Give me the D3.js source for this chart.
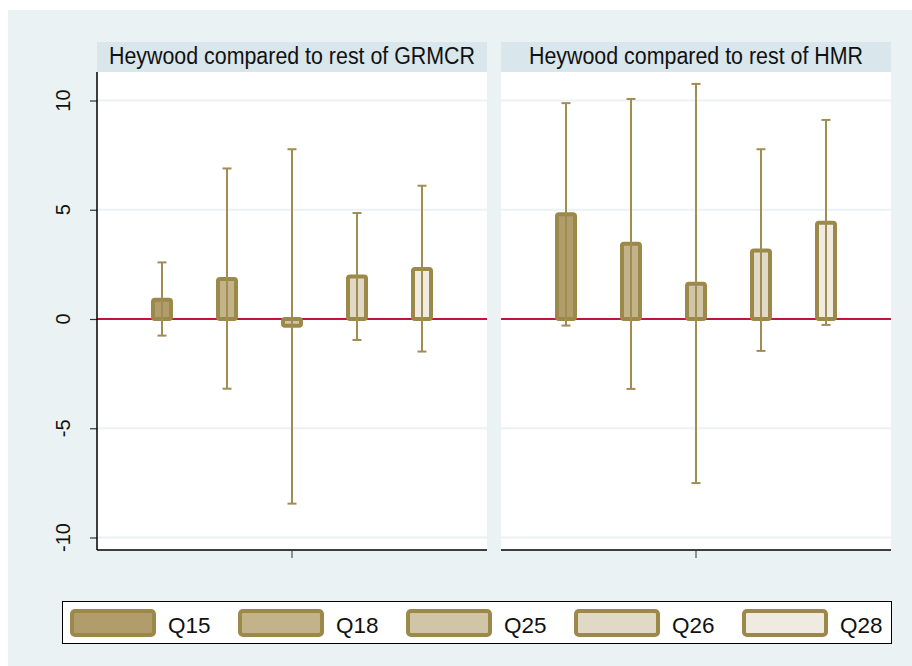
<!DOCTYPE html>
<html>
<head>
<meta charset="utf-8">
<script src="https://cdn.jsdelivr.net/npm/d3@7"></script>
<style>
  body { margin: 0; background: #fff; }
  svg text { font-family: "Liberation Sans", Arial, sans-serif; }
</style>
</head>
<body>
<div id="chart"></div>
<script>
// data
const series = ["Q15", "Q18", "Q25", "Q26", "Q28"];
const panelTitles = ["Heywood compared to rest of GRMCR", "Heywood compared to rest of HMR"];
const grmcrMean = [0.88, 1.83, -0.31, 1.95, 2.29];
const grmcrLow = [-0.76, -3.19, -8.45, -0.96, -1.49];
const grmcrHigh = [2.59, 6.89, 7.77, 4.85, 6.1];
const hmrMean = [4.79, 3.44, 1.61, 3.14, 4.4];
const hmrLow = [-0.3, -3.2, -7.51, -1.46, -0.27];
const hmrHigh = [9.88, 10.07, 10.76, 7.77, 9.11];
const yTicks = [-10, -5, 0, 5, 10];
const fills = ["#b09d6b", "#c3b38a", "#d0c5a7", "#e0d9c5", "#efebe1"];

const W = 912, H = 666;
const olive = "#9c8848";
const spike = "#a08d52";
const plotTop = 72, plotBottom = 550;
const panels = [
    { x0: 97, x1: 487, title: panelTitles[0], mean: grmcrMean, lo: grmcrLow, hi: grmcrHigh, yAxis: true },
    { x0: 501, x1: 891, title: panelTitles[1], mean: hmrMean, lo: hmrLow, hi: hmrHigh, yAxis: false }
];

const svg = d3.select("#chart")
  .append("svg")
    .attr("width", W)
    .attr("height", H);

svg.append("rect")
    .attr("x", 8).attr("y", 10)
    .attr("width", W - 8).attr("height", H - 10)
    .attr("fill", "#eaf2f3");

const yScale = d3.scaleLinear()
    .domain([-10, 10])
    .range([537.5, 100.5]);

panels.forEach((p, k) => {
    const g = svg.append("g");
    const xScale = d3.scalePoint()
        .domain(series)
        .range([p.x0, p.x1])
        .padding(1);

    // title strip
    g.append("rect")
        .attr("x", p.x0).attr("y", 42)
        .attr("width", p.x1 - p.x0).attr("height", 30)
        .attr("fill", "#d9e6eb");
    g.append("text")
        .attr("x", (p.x0 + p.x1) / 2)
        .attr("y", 64)
        .attr("text-anchor", "middle")
        .attr("textLength", k === 0 ? 366 : 334)
        .attr("lengthAdjust", "spacingAndGlyphs")
        .style("font-size", "23px")
        .attr("fill", "#111")
        .text(p.title);

    // plot area
    g.append("rect")
        .attr("x", p.x0).attr("y", plotTop)
        .attr("width", p.x1 - p.x0).attr("height", plotBottom - plotTop)
        .attr("fill", "#fff");

    // gridlines
    g.selectAll(".grid")
        .data(yTicks.filter(d => d !== 0))
        .join("line")
        .attr("x1", p.x0).attr("x2", p.x1)
        .attr("y1", d => yScale(d)).attr("y2", d => yScale(d))
        .attr("stroke", "#eaf2f3")
        .attr("stroke-width", 2);

    // zero line
    g.append("line")
        .attr("x1", p.x0).attr("x2", p.x1)
        .attr("y1", yScale(0)).attr("y2", yScale(0))
        .attr("stroke", "#c0143c")
        .attr("stroke-width", 1.8);

    // bars
    const bw = 18;
    g.selectAll(".bar")
        .data(series)
        .join("rect")
        .attr("x", d => xScale(d) - bw / 2)
        .attr("y", (d, i) => yScale(Math.max(0, p.mean[i])))
        .attr("width", bw)
        .attr("height", (d, i) => Math.abs(yScale(p.mean[i]) - yScale(0)))
        .attr("rx", 2)
        .attr("fill", (d, i) => fills[i])
        .attr("stroke", olive)
        .attr("stroke-width", 4);

    // error bars (capped spikes)
    const cap = 4.5;
    series.forEach((s, i) => {
        const cx = xScale(s);
        g.append("line")
            .attr("x1", cx).attr("x2", cx)
            .attr("y1", yScale(p.lo[i])).attr("y2", yScale(p.hi[i]))
            .attr("stroke", spike).attr("stroke-width", 2);
        [p.lo[i], p.hi[i]].forEach(v => {
            g.append("line")
                .attr("x1", cx - cap).attr("x2", cx + cap)
                .attr("y1", yScale(v)).attr("y2", yScale(v))
                .attr("stroke", spike).attr("stroke-width", 2);
        });
    });

    // bottom axis
    g.append("line")
        .attr("x1", p.x0).attr("x2", p.x1)
        .attr("y1", plotBottom).attr("y2", plotBottom)
        .attr("stroke", "#000").attr("stroke-width", 1.5);
    g.append("line")
        .attr("x1", (p.x0 + p.x1) / 2).attr("x2", (p.x0 + p.x1) / 2)
        .attr("y1", plotBottom).attr("y2", plotBottom + 8)
        .attr("stroke", "#333").attr("stroke-width", 1);

    if (p.yAxis) {
        const axis = g.append("g")
            .attr("transform", `translate(${p.x0},0)`)
            .call(d3.axisLeft(yScale).tickValues(yTicks).tickSize(7).tickFormat(""));
        axis.select(".domain").remove();
        axis.selectAll(".tick line").attr("stroke", "#333").attr("stroke-width", 1.2);
        g.append("line")
            .attr("x1", p.x0).attr("x2", p.x0)
            .attr("y1", plotTop).attr("y2", plotBottom)
            .attr("stroke", "#000").attr("stroke-width", 1.5);
        g.selectAll(".ylab")
            .data(yTicks)
            .join("text")
            .attr("transform", d => `translate(70,${yScale(d)}) rotate(-90)`)
            .attr("text-anchor", "middle")
            .style("font-size", "20px")
            .attr("fill", "#111")
            .text(d => d);
    }
});

// legend
const legend = svg.append("g");
legend.append("rect")
    .attr("x", 62.5).attr("y", 601.5)
    .attr("width", 829).attr("height", 42)
    .attr("fill", "#fff")
    .attr("stroke", "#000").attr("stroke-width", 1);

const item = legend.selectAll(".item")
    .data(series)
    .join("g")
    .attr("transform", (d, i) => `translate(${70 + 168 * i},609)`);
item.append("rect")
    .attr("x", 2).attr("y", 2)
    .attr("width", 82).attr("height", 24)
    .attr("rx", 3)
    .attr("fill", (d, i) => fills[i])
    .attr("stroke", olive).attr("stroke-width", 4);
item.append("text")
    .attr("x", 98).attr("y", 23.5)
    .style("font-size", "22.5px")
    .attr("fill", "#111")
    .text(d => d);
</script>
</body>
</html>
